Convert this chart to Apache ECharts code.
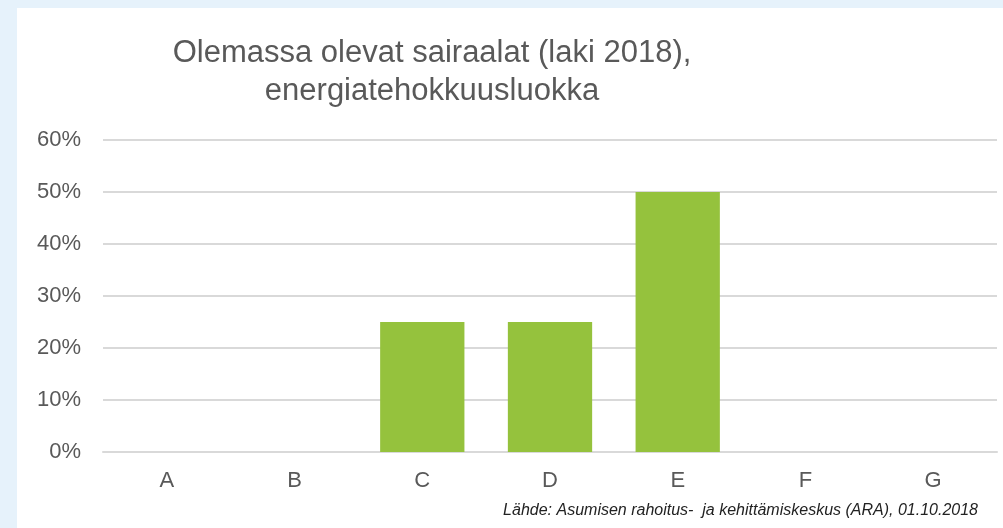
<!DOCTYPE html>
<html>
<head>
<meta charset="utf-8">
<script src="https://cdn.jsdelivr.net/npm/echarts@6/dist/echarts.min.js"></script>
<style>
html,body{margin:0;padding:0;width:1003px;height:528px;background:#e6f2fb;overflow:hidden;}
#c{position:absolute;left:17px;top:8px;width:986px;height:520px;background:#ffffff;}
</style>
</head>
<body>
<div id="c"></div>
<script>
const titleLines = ['Olemassa olevat sairaalat (laki 2018),', 'energiatehokkuusluokka'];
const categories = ['A', 'B', 'C', 'D', 'E', 'F', 'G'];
const shares = [0, 0, 25, 25, 50, 0, 0];
const yTicks = [0, 10, 20, 30, 40, 50, 60];
const sourceNote = 'Lähde: Asumisen rahoitus-  ja kehittämiskeskus (ARA), 01.10.2018';

const chart = echarts.init(document.getElementById('c'), null, {renderer: 'canvas'});
chart.setOption({
  animation: false,
  backgroundColor: '#ffffff',
  title: {
    text: titleLines.join('\n'),
    left: 410,
    top: 21,
    textAlign: 'center',
    textStyle: {
      fontFamily: 'Liberation Sans, Arial, sans-serif',
      fontSize: 31,
      fontWeight: 'normal',
      color: '#595959',
      lineHeight: 38
    }
  },
  grid: {left: 86, right: 6, top: 132, bottom: 76, containLabel: false},
  xAxis: {
    type: 'category',
    data: categories,
    axisLine: {show: true, lineStyle: {color: '#d9d9d9', width: 2}},
    axisTick: {show: false},
    axisLabel: {
      color: '#595959', fontSize: 22, margin: 18,
      fontFamily: 'Liberation Sans, Arial, sans-serif'
    }
  },
  yAxis: {
    type: 'value',
    min: yTicks[0],
    max: yTicks[yTicks.length - 1],
    interval: 10,
    axisLine: {show: false},
    axisTick: {show: false},
    splitLine: {lineStyle: {color: '#d9d9d9', width: 2}},
    axisLabel: {
      formatter: v => v + '%',
      color: '#595959', fontSize: 22, margin: 22,
      fontFamily: 'Liberation Sans, Arial, sans-serif'
    }
  },
  series: [{
    type: 'bar',
    data: shares,
    barCategoryGap: '34%',
    itemStyle: {color: '#95c23d'},
    silent: true
  }],
  graphic: [{
    type: 'text',
    right: 25,
    top: 495,
    style: {
      text: sourceNote,
      fill: '#222222',
      font: 'italic 16px "Liberation Sans", Arial, sans-serif'
    }
  }]
});
</script>
</body>
</html>
